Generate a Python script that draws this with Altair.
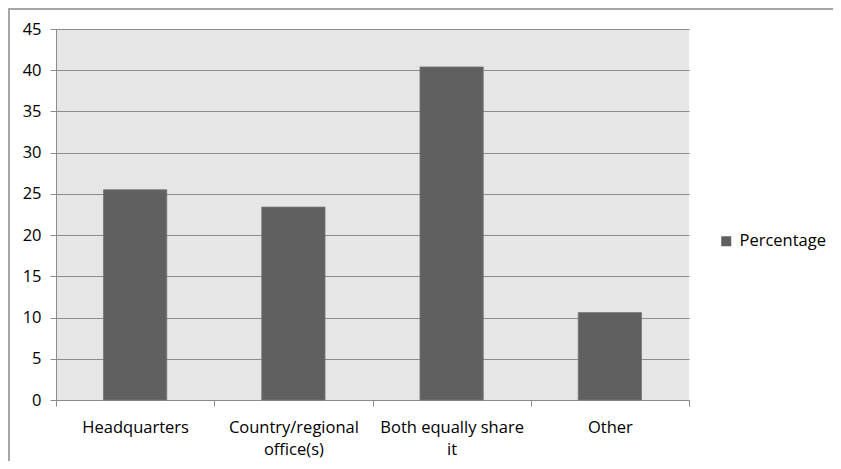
import altair as alt
import pandas as pd

categories = ["Headquarters", "Country/regional\noffice(s)", "Both equally share\nit", "Other"]
values = [25.5, 23.4, 40.4, 10.6]
series_name = "Percentage"
y_ticks = [0, 5, 10, 15, 20, 25, 30, 35, 40, 45]

df = pd.DataFrame({"category": categories, "value": values, "series": [series_name] * len(categories)})

FONT = "Open Sans"
FS = 16.5
GRAY = "#8c8c8c"

bars = alt.Chart(df).mark_bar(
    width=alt.RelativeBandSize(0.4), color="#606060", stroke="#777777", strokeWidth=0.8
).encode(
    x=alt.X("category:N", sort=categories, title=None,
            scale=alt.Scale(paddingInner=0, paddingOuter=0),
            axis=alt.Axis(labelAngle=0, tickBand="extent", labelExpr="split(datum.label, '\\n')",
                          labelFont=FONT, labelFontSize=FS, labelColor="#000000",
                          labelPadding=13, labelLineHeight=22, tickSize=6,
                          tickColor=GRAY, domainColor=GRAY, grid=False)),
    y=alt.Y("value:Q", title=None,
            scale=alt.Scale(domain=[0, 45], nice=False),
            axis=alt.Axis(values=y_ticks, labelFont=FONT, labelFontSize=FS, labelColor="#000000",
                          labelPadding=9, tickSize=6, tickColor=GRAY, domainColor=GRAY,
                          grid=True, gridColor=GRAY, gridWidth=1)),
    color=alt.Color("series:N", title=None,
                    scale=alt.Scale(domain=[series_name], range=["#606060"]),
                    legend=alt.Legend(orient="none", legendX=662, legendY=204,
                                      symbolType="square", symbolSize=100,
                                      symbolStrokeWidth=0, labelFont=FONT,
                                      labelFontSize=FS, labelColor="#000000",
                                      labelOffset=5)),
)

border = alt.Chart(alt.Data(values=[{}])).mark_rule(color="#a6a6a6", strokeWidth=2, clip=False)
border_top = border.encode(x=alt.value(-48), x2=alt.value(790), y=alt.value(-20))
border_left = border.encode(x=alt.value(-47), y=alt.value(-21), y2=alt.value(440))

chart = alt.layer(bars, border_top, border_left).properties(
    width=633, height=371,
    autosize=alt.AutoSizeParams(type="none"),
    padding={"left": 48, "top": 21, "right": 144, "bottom": 61},
    background="white",
).configure_view(fill="#e6e6e6", strokeWidth=0)

chart.save("out.html", embed_options={"renderer": "svg", "actions": False})
